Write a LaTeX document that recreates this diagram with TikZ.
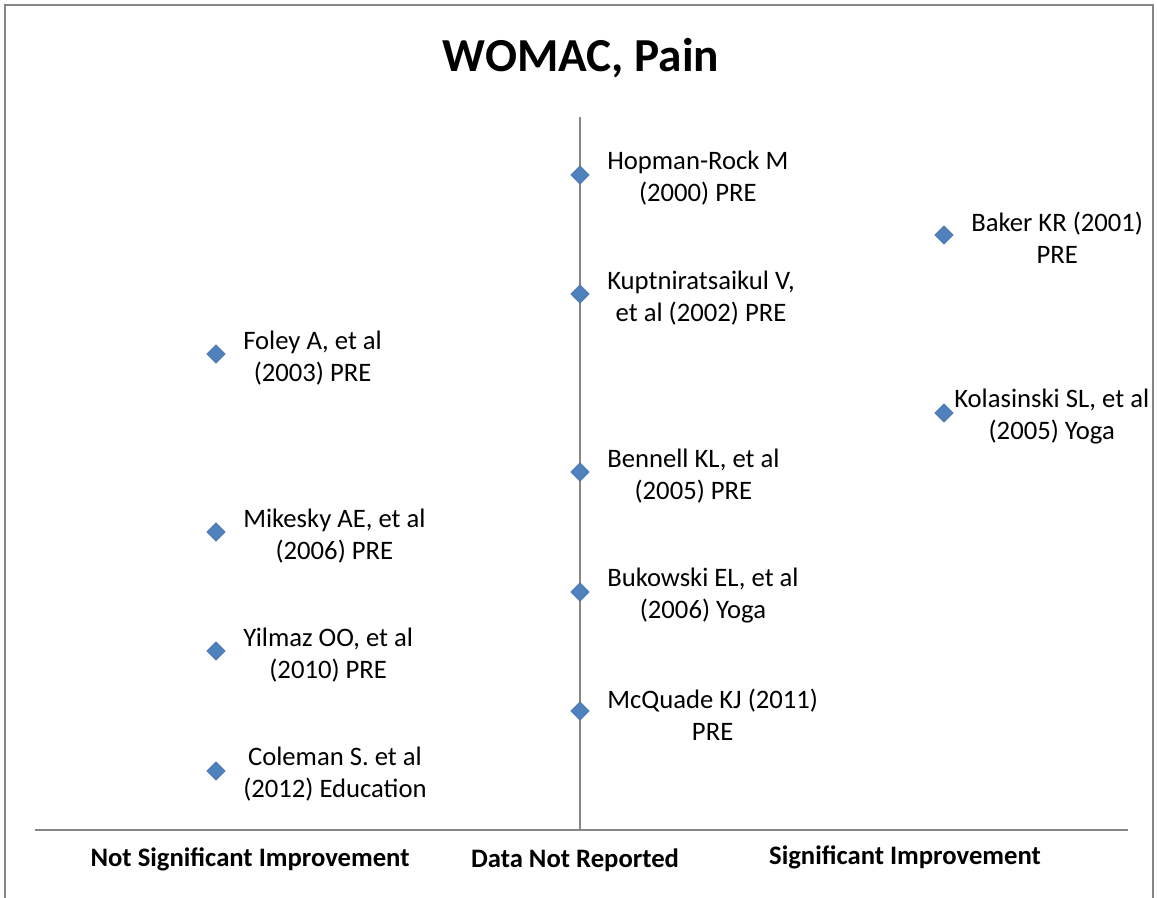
\documentclass[tikz,border=0pt]{standalone}
\usepackage{fontspec}
\setmainfont{Carlito}
\usetikzlibrary{shapes.geometric}
\definecolor{axisgray}{HTML}{868686}
\definecolor{markblue}{HTML}{4F81BD}
\definecolor{markedge}{HTML}{3F6DA6}
\begin{document}
\begin{tikzpicture}[x=0.75pt,y=-0.75pt,
  pt/.style={diamond,fill=markblue,draw=markedge,line width=0.4pt,inner sep=0pt,minimum width=14pt,minimum height=14pt},
  lbl/.style={anchor=west,align=center,inner sep=0pt,font=\fontsize{20pt}{24pt}\selectfont},
  cat/.style={font=\bfseries\fontsize{20pt}{24pt}\selectfont,inner sep=0pt},
  axisline/.style={draw=axisgray,line width=1.2pt}]
\useasboundingbox (0,0) rectangle (1157,898);
% chart frame (open at the bottom edge)
\draw[axisline] (5,898) -- (5,5) -- (1153,5) -- (1153,898);
% title
\node[font=\bfseries\fontsize{35.5pt}{42pt}\selectfont,inner sep=0pt] (title) at (581,58) {WOMAC, Pain};
% axes
\coordinate (xl) at (35,830);
\coordinate (xr) at (1128,830);
\coordinate (vt) at (580,117);
\coordinate (vb) at (580,830);
\draw[axisline] (xl) -- (xr);
\draw[axisline] (vt) -- (vb);
% category labels
\node[cat] (c1) at (250,859) {Not Significant Improvement};
\node[cat] (c2) at (575,860) {Data Not Reported};
\node[cat] (c3) at (905,857) {Significant Improvement};
% data points and their labels
\node[pt] (p1) at (580,175) {};
\node[lbl] (l1) at (607,178) {Hopman-Rock M\\(2000) PRE};
\node[pt] (p2) at (944,235) {};
\node[lbl] (l2) at (971,238) {Baker KR (2001)\\PRE};
\node[pt] (p3) at (580,294) {};
\node[lbl] (l3) at (607,298) {Kuptniratsaikul V,\\et al (2002) PRE};
\node[pt] (p4) at (216,354) {};
\node[lbl] (l4) at (243,358) {Foley A, et al\\(2003) PRE};
\node[pt] (p5) at (944,413) {};
\node[lbl] (l5) at (954,417) {Kolasinski SL, et al\\(2005) Yoga};
\node[pt] (p6) at (580,472) {};
\node[lbl] (l6) at (607,476) {Bennell KL, et al\\(2005) PRE};
\node[pt] (p7) at (216,532) {};
\node[lbl] (l7) at (243,536) {Mikesky AE, et al\\(2006) PRE};
\node[pt] (p8) at (580,592) {};
\node[lbl] (l8) at (607,596) {Bukowski EL, et al\\(2006) Yoga};
\node[pt] (p9) at (216,651) {};
\node[lbl] (l9) at (243,655) {Yilmaz OO, et al\\(2010) PRE};
\node[pt] (p10) at (580,711) {};
\node[lbl] (l10) at (607,715) {McQuade KJ (2011)\\PRE};
\node[pt] (p11) at (216,771) {};
\node[lbl] (l11) at (243,774) {Coleman S. et al\\(2012) Education};
\end{tikzpicture}
\end{document}
